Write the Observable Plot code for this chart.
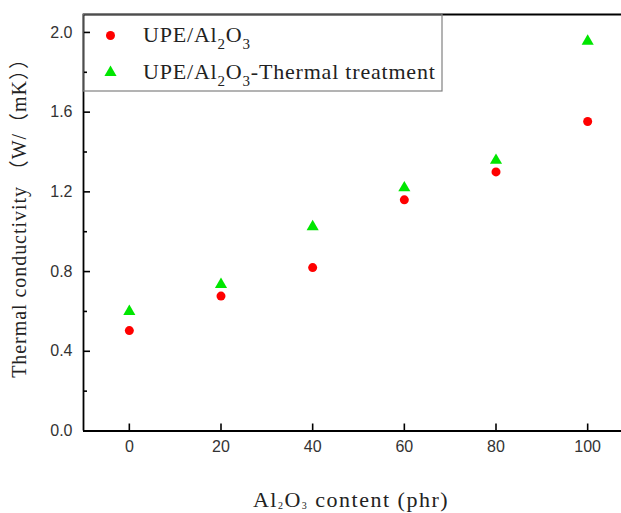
<!DOCTYPE html>
<html><head><meta charset="utf-8">
<script src="https://cdn.jsdelivr.net/npm/d3@7"></script>
<script src="https://cdn.jsdelivr.net/npm/@observablehq/plot@0.6"></script>
<style>body{margin:0;background:#fff}</style>
</head><body><div id="chart"></div>
<script>
const content = [0, 20, 40, 60, 80, 100];
const untreated = [0.504, 0.677, 0.82, 1.16, 1.30, 1.553];
const treated = [0.600, 0.735, 1.025, 1.22, 1.358, 1.956];
const seriesNames = ["UPE/Al2O3", "UPE/Al2O3-Thermal treatment"];
const xTicks = [0, 20, 40, 60, 80, 100];
const yTicks = [0, 0.4, 0.8, 1.2, 1.6, 2.0];
const yMinorTicks = [0.2, 0.6, 1.0, 1.4, 1.8];

const data = [
  ...content.map((x, i) => ({x, y: untreated[i], series: seriesNames[0]})),
  ...content.map((x, i) => ({x, y: treated[i], series: seriesNames[1]}))
];

const xDomain = [-10, 110];
const yDomain = [0, 2.09];
const axisStroke = {stroke: "black", strokeWidth: 1.8};

const chart = Plot.plot({
  width: 621, height: 513,
  marginLeft: 83, marginRight: 0, marginTop: 14, marginBottom: 82.5,
  x: {domain: xDomain, range: [83, 633]},
  y: {domain: yDomain},
  color: {domain: seriesNames, range: ["#ff0000", "#00e600"]},
  symbol: {domain: seriesNames, range: ["circle", "triangle"]},
  style: {fontFamily: "'Liberation Sans', Arial, sans-serif", fontSize: "16px", color: "#333", background: "white"},
  marks: [
    Plot.ruleY([yDomain[0]], axisStroke),
    Plot.ruleY([yDomain[1]], axisStroke),
    Plot.ruleX([xDomain[0]], axisStroke),
    Plot.axisX({ticks: xTicks, tickSize: -7, tickFormat: () => "", label: null, stroke: "black", strokeWidth: 1.6}),
    Plot.axisX({ticks: xTicks, tickSize: 0, tickPadding: 10, label: null, fill: "#333"}),
    Plot.axisY({ticks: yTicks, tickSize: -7, tickFormat: () => "", label: null, stroke: "black", strokeWidth: 1.6}),
    Plot.axisY({ticks: yMinorTicks, tickSize: -4, tickFormat: () => "", label: null, stroke: "black", strokeWidth: 1.6}),
    Plot.axisY({ticks: yTicks, tickSize: 0, tickPadding: 11, tickFormat: d3.format(".1f"), label: null, fill: "#333"}),
    Plot.dot(data, {x: "x", y: "y", fill: "series", symbol: "series", r: 4.5}),
    Plot.dot([seriesNames[0]], {frameAnchor: "top-left", dx: 27, dy: 21, fill: d => d, symbol: d => d, r: 4.5}),
    Plot.dot([seriesNames[1]], {frameAnchor: "top-left", dx: 27, dy: 58, fill: d => d, symbol: d => d, r: 4.5})
  ]
});
document.getElementById("chart").appendChild(chart);

const svg = d3.select(chart);
// legend box
svg.append("rect").attr("x", 83).attr("y", 14).attr("width", 359).attr("height", 77)
  .attr("fill", "none").attr("stroke", "#808080").attr("stroke-width", 1.2);

function addText(x, y, parts, o) {
  const t = svg.append("text")
    .attr("x", x).attr("y", y)
    .attr("font-family", "'Liberation Serif', 'Noto Sans CJK SC', serif")
    .attr("font-size", o.size).attr("fill", "#222")
    .attr("letter-spacing", o.ls)
    .attr("text-anchor", o.anchor || "start");
  if (o.rotate) t.attr("transform", `rotate(${o.rotate},${x},${y})`);
  let shift = 0;
  for (const p of parts) {
    const sp = t.append("tspan").text(p.t);
    if (p.sub) { sp.attr("font-size", o.subSize).attr("dy", o.subDy - shift); shift = o.subDy; }
    else { if (shift) sp.attr("dy", -shift); shift = 0; }
  }
}
const al2o3 = () => [{t: "Al"}, {t: "2", sub: true}, {t: "O"}, {t: "3", sub: true}];
const legendStyle = {size: 22, subSize: 15, subDy: 7, ls: 0.8};
addText(143, 42, [{t: "UPE/"}, ...al2o3()], legendStyle);
addText(143, 79, [{t: "UPE/"}, ...al2o3(), {t: "-Thermal treatment"}], legendStyle);
addText(351, 507, [...al2o3(), {t: " content (phr)"}], {size: 22, subSize: 10, subDy: 2, ls: 1.5, anchor: "middle"});
addText(26, 213, [{t: "Thermal conductivity （W/（mK））"}], {size: 20, ls: 0.95, anchor: "middle", rotate: -90});
</script></body></html>
